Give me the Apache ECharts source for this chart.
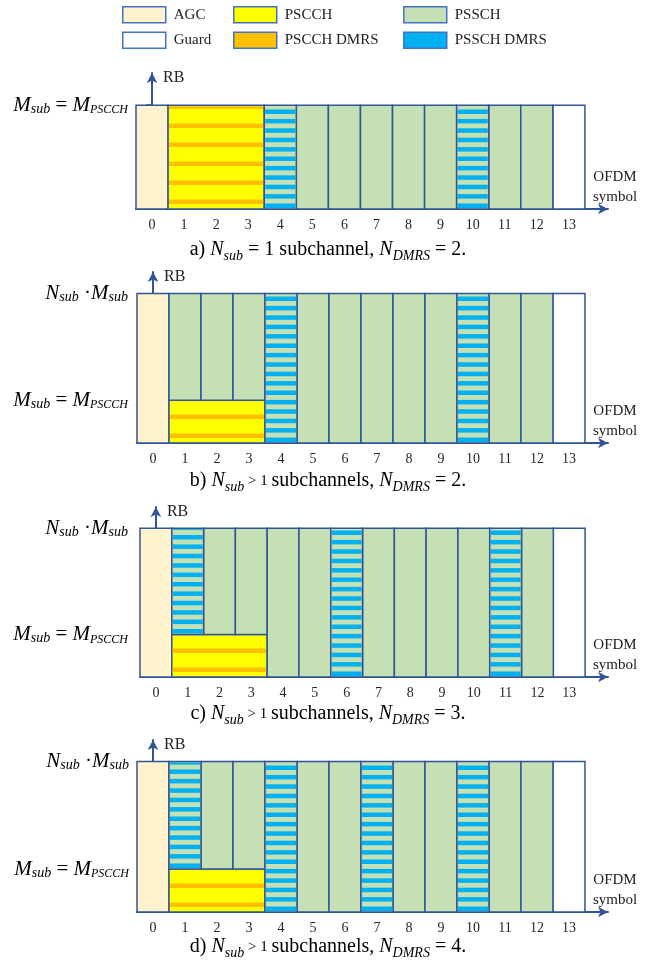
<!DOCTYPE html>
<html><head><meta charset="utf-8">
<script src="https://cdn.jsdelivr.net/npm/echarts@6/dist/echarts.min.js"></script>
<style>html,body{margin:0;padding:0;background:#fff}#c{width:656px;height:962px}</style>
</head><body><div id="c"></div>
<script>
// ---------------- data ----------------
const symbols = [0,1,2,3,4,5,6,7,8,9,10,11,12,13];
const panelLetters = ['a','b','c','d'];
const msubLevel = [1, 1, 1, 1];          // M_sub = M_PSCCH
const nsubLevel = [1, 3.5, 3.5, 3.5];    // N_sub · M_sub
const nsubRelation = ['=', '>', '>', '>'];
const ndmrs = [2, 2, 3, 4];
// channel per OFDM symbol in the lower band (0..M_sub) and upper band (M_sub..N_sub·M_sub)
const lowerA = ['AGC','PSCCH','PSCCH','PSCCH','PSSCH DMRS','PSSCH','PSSCH','PSSCH','PSSCH','PSSCH','PSSCH DMRS','PSSCH','PSSCH','Guard'];
const upperA = lowerA;
const lowerB = ['AGC','PSCCH','PSCCH','PSCCH','PSSCH DMRS','PSSCH','PSSCH','PSSCH','PSSCH','PSSCH','PSSCH DMRS','PSSCH','PSSCH','Guard'];
const upperB = ['AGC','PSSCH','PSSCH','PSSCH','PSSCH DMRS','PSSCH','PSSCH','PSSCH','PSSCH','PSSCH','PSSCH DMRS','PSSCH','PSSCH','Guard'];
const lowerC = ['AGC','PSCCH','PSCCH','PSCCH','PSSCH','PSSCH','PSSCH DMRS','PSSCH','PSSCH','PSSCH','PSSCH','PSSCH DMRS','PSSCH','Guard'];
const upperC = ['AGC','PSSCH DMRS','PSSCH','PSSCH','PSSCH','PSSCH','PSSCH DMRS','PSSCH','PSSCH','PSSCH','PSSCH','PSSCH DMRS','PSSCH','Guard'];
const lowerD = ['AGC','PSCCH','PSCCH','PSCCH','PSSCH DMRS','PSSCH','PSSCH','PSSCH DMRS','PSSCH','PSSCH','PSSCH DMRS','PSSCH','PSSCH','Guard'];
const upperD = ['AGC','PSSCH DMRS','PSSCH','PSSCH','PSSCH DMRS','PSSCH','PSSCH','PSSCH DMRS','PSSCH','PSSCH','PSSCH DMRS','PSSCH','PSSCH','Guard'];
const lowerRows = [lowerA, lowerB, lowerC, lowerD];
const upperRows = [upperA, upperB, upperC, upperD];
const channelNames = ['AGC','Guard','PSCCH','PSCCH DMRS','PSSCH','PSSCH DMRS'];

// ---------------- styles ----------------
const COLORS = {'AGC':'#FFF2CC','Guard':'#FFFFFF','PSCCH':'#FFFF00','PSCCH DMRS':'#FFC000','PSSCH':'#C5E0B4','PSSCH DMRS':'#00B0F0'};
const LINE = '#2F5597';
const FONT = 'Liberation Serif';
const gridsPx = [
  {left:136, top:73,  width:472, height:136},
  {left:137, top:272, width:471, height:171},
  {left:140, top:507, width:468, height:170},
  {left:137, top:740, width:471, height:172}
];
const yMax = [1.31, 4, 4, 4];
const yLabelMargin = [8, 9, 12, 8];
const captionTop = [238, 469, 702, 935];

// ---------------- build cells ----------------
function buildCells(p) {
  const lo = lowerRows[p], up = upperRows[p], m = msubLevel[p], t = nsubLevel[p];
  const cells = [];
  symbols.forEach((s, i) => {
    if (lo[i] === up[i] || m === t) cells.push([s, s, 0, t, lo[i]]);
    else { cells.push([s, s, 0, m, lo[i]]); cells.push([s, s, m, t, up[i]]); }
  });
  const out = [];
  cells.forEach(c => {
    const prev = out.find(o => o[4] === 'PSCCH' && c[4] === 'PSCCH' && o[1] === c[0] - 1 && o[2] === c[2] && o[3] === c[3]);
    if (prev) prev[1] = c[1]; else out.push(c.slice());
  });
  return out;
}

function renderCell(kind) {
  return function (params, api) {
    const a = api.coord([api.value(0) - 0.5, api.value(2)]);
    const b = api.coord([api.value(1) + 0.5, api.value(3)]);
    const x = a[0], w = b[0] - a[0], top = b[1], bottom = a[1], h = bottom - top;
    const kids = [];
    if (kind === 'PSCCH DMRS' || kind === 'PSSCH DMRS') {
      const orange = kind === 'PSCCH DMRS';
      if (!orange) kids.push({type:'rect', shape:{x:x, y:top, width:w, height:h}, style:{fill:COLORS['PSSCH']}});
      const period = orange ? 19 : 9.4, thick = 4.5, off = orange ? 5 : 1;
      for (let yb = bottom - off; yb > top + 1; yb -= period) {
        const yt = Math.max(yb - thick, top + 1);
        kids.push({type:'rect', shape:{x:x + 1, y:yt, width:w - 2, height:yb - yt}, style:{fill:COLORS[kind]}});
      }
      if (!orange) kids.push({type:'rect', shape:{x:x, y:top, width:w, height:h}, style:{fill:'none', stroke:LINE, lineWidth:1.5}});
    } else {
      kids.push({type:'rect', shape:{x:x, y:top, width:w, height:h}, style:{fill:COLORS[kind], stroke:LINE, lineWidth:1.5}});
    }
    return {type:'group', children:kids};
  };
}

const grids = [], xAxes = [], yAxes = [], series = [], titles = [];
const subRich = {
  m: {fontFamily:FONT, fontStyle:'italic', fontSize:21, lineHeight:22, color:'#000'},
  s: {fontFamily:FONT, fontStyle:'italic', fontSize:14, lineHeight:11, verticalAlign:'bottom', color:'#000'},
  p: {fontFamily:FONT, fontStyle:'italic', fontSize:12, lineHeight:10, verticalAlign:'bottom', color:'#000'},
  e: {fontFamily:FONT, fontSize:21, lineHeight:22, color:'#000'}
};

panelLetters.forEach((L, p) => {
  grids.push(Object.assign({containLabel:false}, gridsPx[p]));
  xAxes.push({
    gridIndex:p, type:'value', min:-0.5, max:14.22,
    axisLine:{show:true, lineStyle:{color:LINE, width:2}, symbol:['none','arrow'], symbolSize:[8,10]},
    axisTick:{show:true, inside:true, length:4, customValues:symbols, lineStyle:{color:LINE, width:1.5}},
    axisLabel:{show:true, customValues:symbols, margin:9, fontFamily:FONT, fontSize:14, color:'#262626'},
    splitLine:{show:false},
    name:'OFDM\nsymbol', nameLocation:'end', nameGap:7,
    nameTextStyle:{fontFamily:FONT, fontSize:15, color:'#222', align:'center', verticalAlign:'bottom', lineHeight:20, padding:[0,0,2,0]}
  });
  const yVals = msubLevel[p] === nsubLevel[p] ? [msubLevel[p]] : [msubLevel[p], nsubLevel[p]];
  yAxes.push({
    gridIndex:p, type:'value', min:0, max:yMax[p],
    axisLine:{show:true, lineStyle:{color:LINE, width:2}, symbol:['none','arrow'], symbolSize:[8,10]},
    axisTick:{show:true, inside:false, length:6, customValues:yVals, lineStyle:{color:LINE, width:1.5}},
    axisLabel:{show:true, customValues:yVals, margin:yLabelMargin[p], rich:subRich,
      formatter: v => Math.abs(v - msubLevel[p]) < 1e-9 ? '{m|M}{s|sub}{e| = }{m|M}{p|PSCCH}' : '{m|N}{s|sub}{e| ·}{m|M}{s|sub}'},
    splitLine:{show:false},
    name:'RB', nameLocation:'end', nameGap:3,
    nameTextStyle:{fontFamily:FONT, fontSize:16, color:'#222', align:'left', verticalAlign:'top', padding:[0,0,0,11]}
  });
  const cells = buildCells(p);
  channelNames.forEach(name => {
    const src = name === 'PSCCH DMRS' ? 'PSCCH' : name;
    series.push({
      type:'custom', name:name, xAxisIndex:p, yAxisIndex:p, silent:true, animation:false,
      itemStyle:{color:COLORS[name], borderColor:LINE},
      encode:{x:[0,1], y:[2,3]},
      renderItem: renderCell(name),
      data: cells.filter(c => c[4] === src).map(c => c.slice(0, 4))
    });
  });
  const rel = nsubRelation[p] === '=' ? '{t| = 1 subchannel, }' : '{g| > 1 }{t|subchannels, }';
  titles.push({
    text: '{t|' + L + ') }{i|N}{s|sub}' + rel + '{i|N}{s|DMRS}{t| = ' + ndmrs[p] + '.}',
    left:'center', top:captionTop[p], padding:0,
    textStyle:{fontFamily:FONT, fontWeight:'normal', fontSize:20, color:'#000', rich:{
      t:{fontFamily:FONT, fontSize:20, lineHeight:24, color:'#000'},
      g:{fontFamily:FONT, fontSize:15, lineHeight:24, color:'#000'},
      i:{fontFamily:FONT, fontStyle:'italic', fontSize:20, lineHeight:24, color:'#000'},
      s:{fontFamily:FONT, fontStyle:'italic', fontSize:14, lineHeight:13, verticalAlign:'bottom', color:'#000', padding:[0,0,-1,0]}
    }}
  });
});

function legendFor(left, names) {
  return {
    left:left, top:6, orient:'vertical', itemWidth:43, itemHeight:16, itemGap:8, selectedMode:false,
    padding:0, icon:'rect',
    textStyle:{fontFamily:FONT, fontSize:15, color:'#222', lineHeight:16, padding:[0,0,0,3]},
    data: names.map(n => ({name:n, icon:'rect', itemStyle:{color:COLORS[n], borderColor:'#4472C4', borderWidth:1.5}}))
  };
}

const chart = echarts.init(document.getElementById('c'), null, {renderer:'canvas'});
chart.setOption({
  backgroundColor:'#fff',
  animation:false,
  title: titles,
  legend: [legendFor(122, ['AGC','Guard']), legendFor(233, ['PSCCH','PSCCH DMRS']), legendFor(403, ['PSSCH','PSSCH DMRS'])],
  grid: grids, xAxis: xAxes, yAxis: yAxes, series: series
});
</script></body></html>
